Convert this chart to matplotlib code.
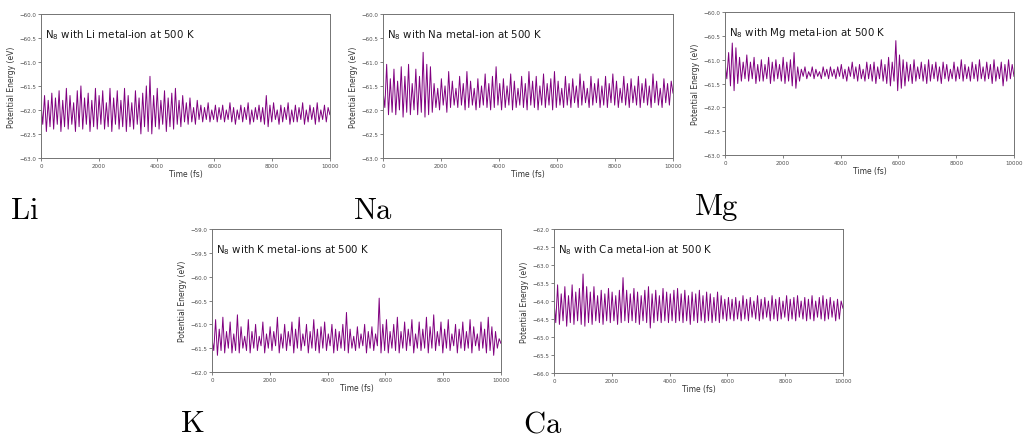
import numpy as np
import matplotlib
matplotlib.use("Agg")
import matplotlib.pyplot as plt

# potential energy traces (eV), equally spaced over 0-10000 fs
li_energy = [
    -61.85, -62.30, -61.70, -62.45, -61.80, -62.35, -61.65, -62.40, -61.75, -62.30,
    -61.60, -62.45, -61.80, -62.35, -61.55, -62.40, -61.70, -62.30, -61.85, -62.45,
    -61.60, -62.35, -61.50, -62.40, -61.75, -62.30, -61.65, -62.45, -61.80, -62.35,
    -61.55, -62.40, -61.70, -62.30, -61.60, -62.40, -61.85, -62.35, -61.55, -62.45,
    -61.75, -62.30, -61.60, -62.40, -61.80, -62.35, -61.55, -62.45, -61.70, -62.35,
    -61.85, -62.40, -61.60, -62.30, -61.75, -62.50, -61.65, -62.35, -61.50, -62.45,
    -61.30, -62.50, -61.70, -62.35, -61.55, -62.40, -61.80, -62.30, -61.60, -62.45,
    -61.75, -62.35, -61.65, -62.40, -61.55, -62.30, -61.80, -62.35, -61.70, -62.25,
    -61.85, -62.30, -61.75, -62.25, -61.95, -62.30, -61.80, -62.20, -61.90, -62.25,
    -61.95, -62.20, -61.85, -62.25, -62.00, -62.20, -61.90, -62.25, -61.95, -62.20,
    -61.90, -62.25, -62.00, -62.20, -61.85, -62.25, -61.95, -62.30, -62.00, -62.20,
    -61.90, -62.25, -61.95, -62.20, -61.85, -62.30, -62.00, -62.25, -61.95, -62.20,
    -61.90, -62.25, -61.95, -62.30, -61.70, -62.35, -61.90, -62.25, -61.85, -62.20,
    -62.00, -62.30, -61.90, -62.25, -61.95, -62.20, -61.85, -62.30, -62.00, -62.25,
    -61.90, -62.25, -61.95, -62.20, -61.85, -62.30, -62.00, -62.25, -61.90, -62.20,
    -61.95, -62.30, -61.85, -62.25, -62.00, -62.20, -61.90, -62.25, -61.95, -62.10,
]

na_energy = [
    -61.60, -61.95, -61.05, -62.10, -61.35, -62.05, -61.15, -62.10, -61.40, -62.00,
    -61.10, -62.15, -61.30, -62.05, -61.05, -62.10, -61.45, -62.00, -61.15, -62.10,
    -61.30, -62.05, -60.80, -62.15, -61.05, -62.10, -61.10, -62.05, -61.45, -61.95,
    -61.55, -62.00, -61.35, -61.90, -61.50, -62.05, -61.20, -61.95, -61.40, -61.90,
    -61.55, -61.95, -61.30, -61.90, -61.45, -62.00, -61.20, -61.95, -61.40, -61.90,
    -61.55, -62.00, -61.35, -61.95, -61.50, -61.90, -61.25, -61.95, -61.45, -62.00,
    -61.30, -61.95, -61.10, -61.90, -61.45, -62.00, -61.35, -61.95, -61.50, -61.90,
    -61.25, -62.00, -61.40, -61.95, -61.55, -61.90, -61.30, -61.95, -61.45, -62.00,
    -61.20, -61.90, -61.40, -61.95, -61.30, -62.00, -61.50, -61.90, -61.25, -61.95,
    -61.45, -61.90, -61.35, -62.00, -61.20, -61.95, -61.40, -61.90, -61.55, -61.95,
    -61.30, -61.90, -61.45, -61.95, -61.35, -61.85, -61.50, -61.95, -61.25, -61.90,
    -61.40, -61.85, -61.55, -61.95, -61.30, -61.90, -61.45, -61.85, -61.35, -61.95,
    -61.50, -61.90, -61.30, -61.95, -61.45, -61.85, -61.25, -61.90, -61.40, -61.95,
    -61.55, -61.85, -61.30, -61.90, -61.45, -61.95, -61.35, -61.85, -61.50, -61.90,
    -61.30, -61.95, -61.45, -61.85, -61.35, -61.90, -61.50, -61.95, -61.25, -61.85,
    -61.40, -61.90, -61.55, -61.95, -61.35, -61.85, -61.45, -61.90, -61.40, -61.65,
]

mg_energy = [
    -61.05, -61.40, -60.85, -61.55, -60.65, -61.65, -60.75, -61.50, -60.95, -61.45,
    -61.05, -61.40, -60.90, -61.45, -61.05, -61.40, -60.95, -61.50, -61.10, -61.45,
    -61.00, -61.45, -61.10, -61.40, -60.95, -61.50, -61.05, -61.45, -61.00, -61.40,
    -61.10, -61.45, -60.95, -61.50, -61.05, -61.45, -61.00, -61.55, -60.85, -61.60,
    -61.15, -61.45, -61.20, -61.35, -61.15, -61.40, -61.25, -61.35, -61.15, -61.40,
    -61.20, -61.35, -61.25, -61.40, -61.15, -61.35, -61.20, -61.40, -61.15, -61.35,
    -61.20, -61.40, -61.15, -61.35, -61.10, -61.40, -61.20, -61.45, -61.15, -61.35,
    -61.05, -61.40, -61.15, -61.45, -61.10, -61.40, -61.20, -61.45, -61.05, -61.40,
    -61.10, -61.45, -61.05, -61.50, -61.15, -61.40, -61.00, -61.45, -61.10, -61.50,
    -60.95, -61.55, -61.05, -61.45, -60.60, -61.65, -60.90, -61.60, -61.00, -61.55,
    -61.05, -61.45, -61.10, -61.50, -61.00, -61.45, -61.15, -61.40, -61.05, -61.45,
    -61.10, -61.50, -61.00, -61.45, -61.10, -61.40, -61.05, -61.45, -61.15, -61.50,
    -61.05, -61.40, -61.10, -61.45, -61.20, -61.40, -61.05, -61.45, -61.15, -61.40,
    -61.00, -61.45, -61.10, -61.40, -61.15, -61.45, -61.05, -61.40, -61.10, -61.45,
    -61.00, -61.40, -61.15, -61.45, -61.05, -61.40, -61.10, -61.50, -61.00, -61.45,
    -61.15, -61.40, -61.05, -61.55, -61.10, -61.45, -61.00, -61.40, -61.10, -61.35,
]

k_energy = [
    -61.30, -61.55, -60.90, -61.65, -61.10, -61.55, -60.85, -61.60, -61.15, -61.50,
    -60.95, -61.60, -61.20, -61.55, -60.80, -61.60, -61.05, -61.50, -61.25, -61.55,
    -60.90, -61.60, -61.15, -61.50, -61.00, -61.55, -61.25, -61.45, -60.95, -61.60,
    -61.20, -61.50, -61.05, -61.55, -61.15, -61.45, -60.85, -61.60, -61.20, -61.50,
    -61.00, -61.55, -61.15, -61.45, -60.95, -61.60, -61.10, -61.50, -60.85, -61.55,
    -61.20, -61.45, -61.00, -61.60, -61.15, -61.50, -60.90, -61.55, -61.10, -61.60,
    -61.05, -61.50, -60.95, -61.55, -61.20, -61.45, -61.00, -61.60, -61.10, -61.55,
    -61.15, -61.50, -61.00, -61.55, -60.75, -61.60, -61.10, -61.50, -61.25, -61.55,
    -61.05, -61.50, -61.20, -61.45, -61.00, -61.60, -61.15, -61.50, -61.05, -61.55,
    -61.20, -61.45, -60.45, -61.60, -61.00, -61.55, -60.90, -61.60, -61.15, -61.50,
    -61.00, -61.55, -60.85, -61.60, -61.15, -61.50, -60.95, -61.55, -61.10, -61.45,
    -60.90, -61.60, -61.20, -61.50, -60.95, -61.55, -61.10, -61.50, -60.85, -61.60,
    -61.05, -61.50, -60.80, -61.55, -61.15, -61.45, -60.95, -61.60, -61.10, -61.50,
    -60.90, -61.55, -61.20, -61.45, -61.00, -61.60, -61.10, -61.50, -60.95, -61.55,
    -61.15, -61.50, -60.90, -61.60, -61.05, -61.45, -61.20, -61.55, -60.95, -61.50,
    -61.10, -61.60, -60.85, -61.55, -61.05, -61.65, -61.15, -61.50, -61.30, -61.40,
]

ca_energy = [
    -64.00, -64.60, -63.55, -64.65, -63.80, -64.55, -63.60, -64.70, -63.85, -64.60,
    -63.55, -64.65, -63.75, -64.55, -63.65, -64.65, -63.25, -64.70, -63.60, -64.60,
    -63.75, -64.65, -63.60, -64.55, -63.85, -64.60, -63.70, -64.65, -63.80, -64.55,
    -63.65, -64.60, -63.75, -64.55, -63.85, -64.65, -63.70, -64.60, -63.35, -64.55,
    -63.70, -64.60, -63.80, -64.55, -63.65, -64.60, -63.75, -64.65, -63.85, -64.55,
    -63.70, -64.60, -63.60, -64.75, -63.80, -64.60, -63.70, -64.55, -63.85, -64.60,
    -63.65, -64.55, -63.75, -64.60, -63.80, -64.55, -63.70, -64.60, -63.65, -64.55,
    -63.80, -64.60, -63.70, -64.55, -63.85, -64.65, -63.75, -64.55, -63.80, -64.60,
    -63.70, -64.55, -63.85, -64.60, -63.75, -64.55, -63.80, -64.60, -63.90, -64.55,
    -63.75, -64.60, -63.85, -64.50, -63.95, -64.55, -63.90, -64.50, -63.95, -64.55,
    -63.90, -64.50, -64.00, -64.55, -63.85, -64.50, -63.95, -64.55, -63.90, -64.45,
    -64.00, -64.50, -63.85, -64.55, -63.95, -64.50, -63.90, -64.45, -64.00, -64.55,
    -63.85, -64.50, -63.95, -64.55, -63.90, -64.50, -64.00, -64.45, -63.85, -64.55,
    -63.95, -64.50, -63.90, -64.55, -63.85, -64.45, -64.00, -64.50, -63.90, -64.55,
    -63.95, -64.50, -63.85, -64.55, -64.00, -64.45, -63.90, -64.50, -63.85, -64.55,
    -63.95, -64.50, -63.90, -64.45, -64.00, -64.55, -63.95, -64.50, -64.00, -64.20,
]

titles = ["N$_8$ with Li metal-ion at 500 K", "N$_8$ with Na metal-ion at 500 K",
          "N$_8$ with Mg metal-ion at 500 K", "N$_8$ with K metal-ions at 500 K",
          "N$_8$ with Ca metal-ion at 500 K"]
labels = ["Li", "Na", "Mg", "K", "Ca"]
ylims = [(-63, -60), (-63, -60), (-63, -60), (-62, -59), (-66, -62)]
series = [li_energy, na_energy, mg_energy, k_energy, ca_energy]

# axes boxes [left, bottom, width, height] and big label positions, in figure fractions
boxes = [[0.040, 0.638, 0.2825, 0.328],
         [0.3744, 0.638, 0.2835, 0.328],
         [0.7087, 0.6446, 0.2825, 0.3257],
         [0.2072, 0.1503, 0.2825, 0.3257],
         [0.5415, 0.148, 0.2825, 0.328]]
label_pos = [(0.0098, 0.501), (0.345, 0.501), (0.678, 0.510), (0.176, 0.015), (0.511, 0.015)]

plt.rcParams['mathtext.fontset'] = 'dejavusans'
fig = plt.figure(figsize=(10.23, 4.39), dpi=100)

for i in range(5):
    ax = fig.add_axes(boxes[i])
    y = np.array(series[i])
    t = np.linspace(0, 10000, len(y))
    ax.plot(t, y, color='purple', linewidth=0.7)
    ax.set_xlim(0, 10000)
    ax.set_ylim(*ylims[i])
    ax.set_yticks(np.arange(ylims[i][0], ylims[i][1] + 0.01, 0.5))
    ax.set_xticks(np.arange(0, 10001, 2000))
    ax.tick_params(labelsize=4, length=2, width=0.5, pad=1.5, colors='0.3')
    for s in ax.spines.values():
        s.set_color('0.45')
        s.set_linewidth(0.7)
    ax.set_xlabel("Time (fs)", fontsize=5.5, labelpad=1, color='0.2')
    ax.set_ylabel("Potential Energy (eV)", fontsize=5.5, labelpad=2, color='0.2')
    ax.text(0.015, 0.86, titles[i], transform=ax.transAxes, fontsize=7.4, va='center', color='0.1')
    fig.text(label_pos[i][0], label_pos[i][1], r'$\mathrm{%s}$' % labels[i],
             fontsize=22, math_fontfamily='cm', va='baseline')

fig.savefig("out.png", dpi=100)
